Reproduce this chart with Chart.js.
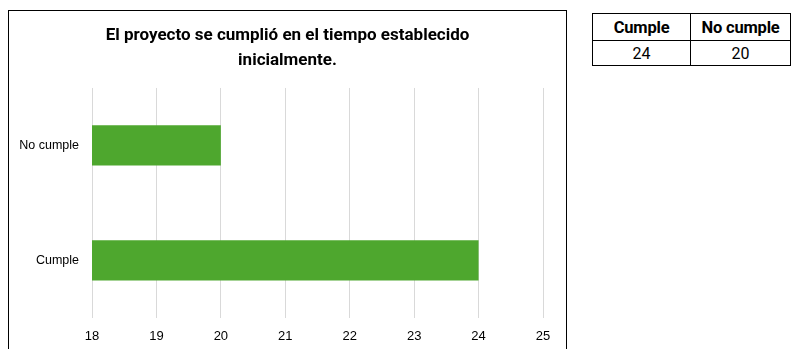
<!DOCTYPE html>
<html>
<head>
<meta charset="utf-8">
<script src="https://cdn.jsdelivr.net/npm/chart.js@4.4.1/dist/chart.umd.min.js"></script>
<style>
  html, body { margin: 0; padding: 0; background: #fff; overflow: hidden; }
  body { width: 791px; height: 349px; position: relative; }
  #box {
    position: absolute; left: 8px; top: 10px;
    width: 557px; height: 360px;
    border: 1px solid #000;
  }
  #chart-wrap { position: absolute; left: 0; top: 0; width: 557px; height: 340px; }
  #tabla {
    position: absolute; left: 592px; top: 13px;
    border-collapse: collapse;
    font-family: Roboto, "Liberation Sans", sans-serif;
    font-size: 16px; color: #000;
  }
  #tabla td, #tabla th {
    border: 1.5px solid #000; padding: 0; text-align: center;
  }
  #tabla th { height: 26px; font-weight: bold; font-size: 16.5px; letter-spacing: -0.2px; }
  #tabla td { height: 24px; }
  #tabla .c1 { width: 100px; }
  #tabla .c2 { width: 102px; }
</style>
</head>
<body>
<div id="box">
  <div id="chart-wrap"><canvas id="bar-chart"></canvas></div>
</div>
<table id="tabla">
  <tr><th class="c1" id="h1"></th><th class="c2" id="h2"></th></tr>
  <tr><td id="v1"></td><td id="v2"></td></tr>
</table>
<script>
// datos del gráfico
const categorias = ["No cumple", "Cumple"];
const valores = [20, 24];
const titulo = ["El proyecto se cumplió en el tiempo establecido", "inicialmente."];
const ejeMin = 18;
const ejeMax = 25;

// tabla resumen (Cumple primero)
document.getElementById("h1").innerText = categorias[1];
document.getElementById("h2").innerText = categorias[0];
document.getElementById("v1").innerText = valores[1];
document.getElementById("v2").innerText = valores[0];

// el título se centra sobre todo el recuadro, no solo sobre el área con padding
const tituloCentrado = {
  id: "tituloCentrado",
  afterLayout(chart) {
    const t = chart.titleBlock;
    if (!t) return;
    t.left = 0;
    t.right = chart.width;
    t.width = chart.width;
  }
};

const ctx = document.getElementById("bar-chart").getContext("2d");

new Chart(ctx, {
  type: "bar",
  data: {
    labels: categorias,
    datasets: [{
      data: valores,
      backgroundColor: "#4EA72E",
      borderWidth: 0,
      barPercentage: 0.7,
      categoryPercentage: 0.5
    }]
  },
  plugins: [tituloCentrado],
  options: {
    indexAxis: "y",
    responsive: true,
    maintainAspectRatio: false,
    animation: false,
    layout: { padding: { left: 0, right: 23, top: 0, bottom: 0 } },
    plugins: {
      legend: { display: false },
      tooltip: { enabled: false },
      title: {
        display: true,
        text: titulo,
        color: "#000",
        font: { family: "Roboto", size: 17, weight: "bold", lineHeight: 1.47 },
        padding: { top: 12, bottom: 15 }
      }
    },
    scales: {
      x: {
        min: ejeMin,
        max: ejeMax,
        ticks: {
          stepSize: 1,
          color: "#000",
          padding: 11,
          font: { family: "Liberation Sans", size: 13 }
        },
        grid: { color: "#d9d9d9", lineWidth: 1, drawTicks: false },
        border: { display: false },
        afterFit: (scale) => { scale.height = 33; }
      },
      y: {
        ticks: {
          color: "#000",
          padding: 13,
          font: { family: "Liberation Sans", size: 12.5 }
        },
        grid: { display: false, drawTicks: false },
        border: { display: false },
        afterFit: (scale) => { scale.width = 83; }
      }
    }
  }
});
</script>
</body>
</html>
